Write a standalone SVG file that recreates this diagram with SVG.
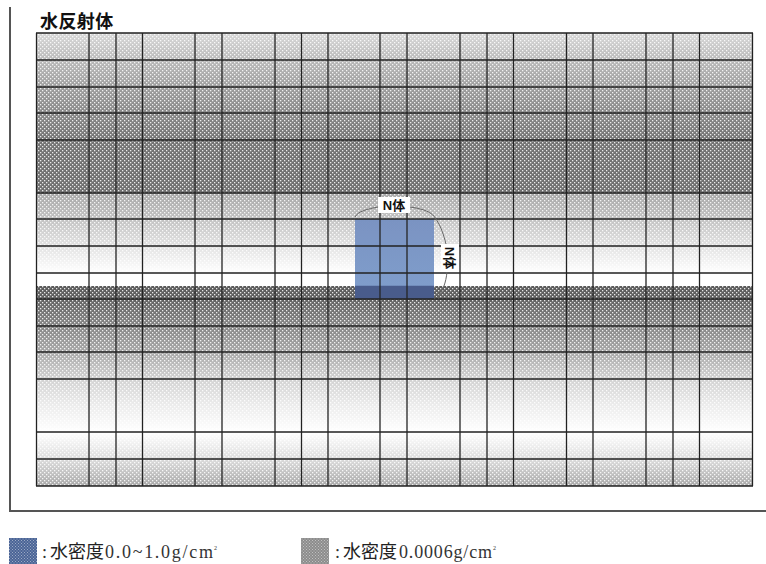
<svg xmlns="http://www.w3.org/2000/svg" width="766" height="564" viewBox="0 0 766 564">
<style>
.g{stroke:#222;stroke-width:1.3;fill:none}
.frame{stroke:#555;stroke-width:2;fill:none}
.arc{stroke:#666;stroke-width:1;fill:none}
.t{font-family:"Noto Sans CJK JP","Noto Sans CJK SC",sans-serif;fill:#111}
.cj{font-family:"Noto Sans CJK JP","Noto Sans CJK SC",sans-serif;font-size:18px;fill:#222}
.lg{font-family:"Liberation Serif",serif;font-size:18px;fill:#333}
.lab{font-family:"Liberation Sans","Noto Sans CJK JP",sans-serif;font-size:13px;font-weight:bold;fill:#111}
</style>
<defs>
<filter id="soft" x="-2%" y="-2%" width="104%" height="104%"><feGaussianBlur stdDeviation="0.4"/></filter>
<linearGradient id="bg" gradientUnits="userSpaceOnUse" x1="0" y1="33" x2="0" y2="486">
<stop offset="0" stop-color="#d8d8d8"/>
<stop offset="0.0596" stop-color="#bababa"/>
<stop offset="0.119" stop-color="#9e9e9e"/>
<stop offset="0.177" stop-color="#888888"/>
<stop offset="0.236" stop-color="#747474"/>
<stop offset="0.353" stop-color="#6e6e6e"/>
<stop offset="0.354" stop-color="#a8a8a8"/>
<stop offset="0.411" stop-color="#c2c2c2"/>
<stop offset="0.470" stop-color="#e2e2e2"/>
<stop offset="0.530" stop-color="#ffffff"/>
<stop offset="0.558" stop-color="#ffffff"/>
<stop offset="0.559" stop-color="#5a5a5a"/>
<stop offset="0.587" stop-color="#626262"/>
<stop offset="0.647" stop-color="#868686"/>
<stop offset="0.704" stop-color="#a8a8a8"/>
<stop offset="0.764" stop-color="#d2d2d2"/>
<stop offset="0.822" stop-color="#ececec"/>
<stop offset="0.881" stop-color="#ffffff"/>
<stop offset="0.940" stop-color="#dddddd"/>
<stop offset="1" stop-color="#a8a8a8"/>
</linearGradient>
<pattern id="dots" width="4" height="4" patternUnits="userSpaceOnUse">
<rect x="0" y="0" width="1.3" height="1.3" fill="#fff" fill-opacity=".85"/>
<rect x="2" y="2" width="1.3" height="1.3" fill="#fff" fill-opacity=".85"/>
</pattern>
<pattern id="dots2" width="3" height="3" patternUnits="userSpaceOnUse">
<rect x="0" y="0" width="1" height="1" fill="#fff" fill-opacity=".45"/>
<rect x="1.500" y="1.500" width="1" height="1" fill="#fff" fill-opacity=".45"/>
</pattern>
<linearGradient id="blue" gradientUnits="userSpaceOnUse" x1="0" y1="219" x2="0" y2="299">
<stop offset="0" stop-color="#7a93c2"/>
<stop offset="0.83" stop-color="#7f9dcb"/>
<stop offset="0.835" stop-color="#485b8c"/>
<stop offset="1" stop-color="#485b8c"/>
</linearGradient>
</defs>

<path class="frame" d="M10 7V511H766"/>
<text class="t" x="40" y="28" font-size="18" font-weight="700" letter-spacing=".4">水反射体</text>

<g id="reflector" filter="url(#soft)">
<rect x="36.500" y="33" width="716" height="453" fill="url(#bg)"/>
<rect x="36.500" y="33" width="716" height="453" fill="url(#dots)"/>
<rect id="water-region" x="355" y="219" width="79" height="80" fill="url(#blue)"/>
</g>

<g id="connectors" filter="url(#soft)">
<path class="g" d="M36.500 33V486M89 33V486M116 33V486M142.500 33V486M195 33V486M222 33V486M275 33V486M301.500 33V486M328 33V486M380 33V486M407 33V486M460 33V486M487 33V486M513.500 33V486M566.500 33V486M593 33V486M646 33V486M673 33V486M699.500 33V486M752.500 33V486"/>
<path class="g" d="M36 33H753M36 60H753M36 87H753M36 113H753M36 140H753M36 193H753M36 219H753M36 246H753M36 273H753M36 299H753M36 326H753M36 352H753M36 379H753M36 432H753M36 459H753M36 486H753"/>
<path class="arc" d="M355 217C358 211 368 209 378 207M410 207C424 209 432 212 436 219C441 226 444 236 446 244M447 272C446 282 443 292 436 298"/>
</g>

<g id="label-top">
<rect x="378" y="197" width="32" height="16" fill="#fff"/>
<text class="lab" x="394" y="209.500" text-anchor="middle">N体</text>
</g>
<g id="label-side">
<rect x="441" y="244" width="18" height="28" fill="#fff"/>
<text class="lab" transform="translate(445 258) rotate(90)" text-anchor="middle">N体</text>
</g>

<g id="legend-blue">
<rect x="9" y="538" width="28" height="26" fill="#4a6496"/>
<rect x="9" y="538" width="28" height="26" fill="url(#dots2)"/>
<text class="lg" x="42" y="558">:</text>
<text class="cj" x="50" y="558">水密度</text>
<text class="lg" x="105" y="558" textLength="108" lengthAdjust="spacing">0.0~1.0g/cm</text>
<text class="lg" x="214" y="550" style="font-size:6px">2</text>
</g>
<g id="legend-gray">
<rect x="301" y="538" width="28" height="26" fill="#8c8c8c"/>
<rect x="301" y="538" width="28" height="26" fill="url(#dots2)"/>
<text class="lg" x="335" y="558">:</text>
<text class="cj" x="343" y="558">水密度</text>
<text class="lg" x="399" y="558" textLength="93" lengthAdjust="spacing">0.0006g/cm</text>
<text class="lg" x="493" y="550" style="font-size:6px">2</text>
</g>
</svg>
